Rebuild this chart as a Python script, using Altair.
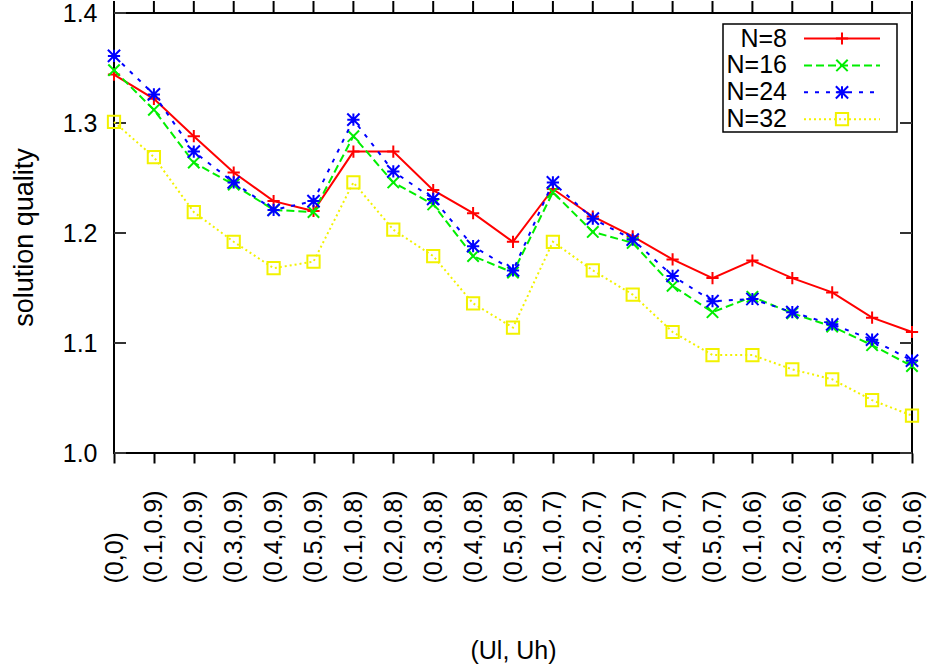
import altair as alt
import pandas as pd

# (Ul, Uh) parameter pairs along the x axis
pairs = ["(0,0)", "(0.1,0.9)", "(0.2,0.9)", "(0.3,0.9)", "(0.4,0.9)", "(0.5,0.9)",
         "(0.1,0.8)", "(0.2,0.8)", "(0.3,0.8)", "(0.4,0.8)", "(0.5,0.8)",
         "(0.1,0.7)", "(0.2,0.7)", "(0.3,0.7)", "(0.4,0.7)", "(0.5,0.7)",
         "(0.1,0.6)", "(0.2,0.6)", "(0.3,0.6)", "(0.4,0.6)", "(0.5,0.6)"]

# solution quality for each problem size N
n8 = [1.344, 1.322, 1.288, 1.255, 1.229, 1.220, 1.274, 1.274, 1.239, 1.218, 1.192,
      1.240, 1.215, 1.197, 1.176, 1.159, 1.175, 1.159, 1.146, 1.123, 1.110]
n16 = [1.348, 1.312, 1.264, 1.244, 1.221, 1.219, 1.288, 1.246, 1.226, 1.179, 1.164,
       1.237, 1.201, 1.191, 1.152, 1.128, 1.142, 1.127, 1.115, 1.098, 1.079]
n24 = [1.361, 1.326, 1.274, 1.246, 1.221, 1.229, 1.303, 1.256, 1.231, 1.188, 1.166,
       1.246, 1.213, 1.194, 1.161, 1.138, 1.140, 1.128, 1.117, 1.103, 1.084]
n32 = [1.301, 1.269, 1.219, 1.192, 1.168, 1.174, 1.246, 1.203, 1.179, 1.136, 1.114,
       1.192, 1.166, 1.144, 1.110, 1.089, 1.089, 1.076, 1.067, 1.048, 1.034]

series_names = ["N=8", "N=16", "N=24", "N=32"]
series_values = [n8, n16, n24, n32]
y_ticks = [1.0, 1.1, 1.2, 1.3, 1.4]

FONT = "Liberation Sans"
W, H = 798, 440

df = pd.DataFrame({
    "pair": [p for _ in series_names for p in pairs],
    "series": [s for s in series_names for _ in pairs],
    "quality": [v for vals in series_values for v in vals],
})

# gnuplot-style point glyphs
PLUS = "M-1,0L1,0M0,-1L0,1"
CROSS = "M-1,-1L1,1M-1,1L1,-1"
STAR = PLUS + CROSS
styles = {
    "N=8": dict(color="#ff0000", dash=None, shape=PLUS, size=150),
    "N=16": dict(color="#00ee00", dash=[8, 4], shape=CROSS, size=130),
    "N=24": dict(color="#0000ff", dash=[4, 7], shape=STAR, size=150),
    "N=32": dict(color="#f2f200", dash=[2, 3], shape="square", size=150),
}

x_enc = alt.X(
    "pair:N",
    scale=alt.Scale(type="point", domain=pairs, padding=0),
    title="(Ul, Uh)",
    axis=alt.Axis(
        domain=False, grid=False, ticks=True, tickSize=10, tickWidth=2,
        tickColor="black", labelAngle=270, labelAlign="left",
        labelBaseline="middle", labelPadding=120, labelFontSize=25,
        labelOverlap=False, labelBound=False, labelColor="black",
        titleFontSize=25, titleFontWeight="normal", titleColor="black",
        titleX=W / 2, titleY=197, titleAlign="center", titleBaseline="middle",
    ),
)

y_scale = alt.Scale(domain=[1.0, 1.4], nice=False, zero=False)
y_axis = alt.Axis(
    values=y_ticks, format=".1f", domain=False, grid=False, ticks=False,
    tickSize=0, labelPadding=17, labelFontSize=25, labelColor="black",
    titleFontSize=27, titleFontWeight="normal", titleColor="black",
    titleAngle=270, titleX=-90, titleY=H / 2 + 4, titleAlign="center",
    titleBaseline="middle",
)


def y_enc(field):
    return alt.Y(field, scale=y_scale, axis=y_axis, title="solution quality")


layers = []

# mirrored ticks along the top border
layers.append(
    alt.Chart(pd.DataFrame({"pair": pairs}))
    .mark_rule(color="black", strokeWidth=2, clip=False)
    .encode(x=x_enc, y=alt.value(-12), y2=alt.value(0))
)

# inward ticks on the left and right borders
tick_df = pd.DataFrame({"tick": y_ticks})
for x0, x1 in [(0, 12), (W - 12, W)]:
    layers.append(
        alt.Chart(tick_df)
        .mark_rule(color="#333333", strokeWidth=2)
        .encode(y=y_enc("tick:Q"), x=alt.value(x0), x2=alt.value(x1))
    )

# one line + point layer per series, N=8 drawn first
for name in series_names:
    st = styles[name]
    base = alt.Chart(df).transform_filter(alt.datum.series == name)
    line_kw = dict(color=st["color"], strokeWidth=2)
    if st["dash"]:
        line_kw["strokeDash"] = st["dash"]
    layers.append(base.mark_line(**line_kw).encode(x=x_enc, y=y_enc("quality:Q")))
    layers.append(
        base.mark_point(shape=st["shape"], size=st["size"], filled=False,
                        strokeWidth=2, color=st["color"], opacity=1)
        .encode(x=x_enc, y=y_enc("quality:Q"))
    )

# key box in the upper right corner
LEG_X0, LEG_X1, LEG_Y0, LEG_Y1 = 609, 783, 11, 119
layers.append(
    alt.Chart(pd.DataFrame({"k": [0]}))
    .mark_rect(fill="white", stroke="black", strokeWidth=1.5)
    .encode(x=alt.value(LEG_X0), x2=alt.value(LEG_X1),
            y=alt.value(LEG_Y0), y2=alt.value(LEG_Y1))
)
ROW0, ROW_GAP = 25.5, 26.9
for i, name in enumerate(series_names):
    st = styles[name]
    ry = ROW0 + i * ROW_GAP
    row = alt.Chart(pd.DataFrame({"series": [name]}))
    layers.append(
        row.mark_text(align="right", baseline="middle", fontSize=25, font=FONT,
                      color="black")
        .encode(text="series:N", x=alt.value(673), y=alt.value(ry))
    )
    rule_kw = dict(color=st["color"], strokeWidth=2)
    if st["dash"]:
        rule_kw["strokeDash"] = st["dash"]
    layers.append(
        row.mark_rule(**rule_kw)
        .encode(x=alt.value(690), x2=alt.value(766), y=alt.value(ry))
    )
    layers.append(
        row.mark_point(shape=st["shape"], size=st["size"], filled=False,
                       strokeWidth=2, color=st["color"], opacity=1)
        .encode(x=alt.value(728), y=alt.value(ry))
    )

chart = (
    alt.layer(*layers)
    .properties(
        width=W, height=H,
        autosize=alt.AutoSizeParams(type="none"),
        padding={"left": 114, "top": 13, "right": 18, "bottom": 212},
        background="white",
    )
    .configure_view(stroke="black", strokeWidth=2)
    .configure_axis(labelFont=FONT, titleFont=FONT)
    .configure_text(font=FONT)
)

chart.save("out.html", embed_options={"renderer": "svg", "actions": False})
